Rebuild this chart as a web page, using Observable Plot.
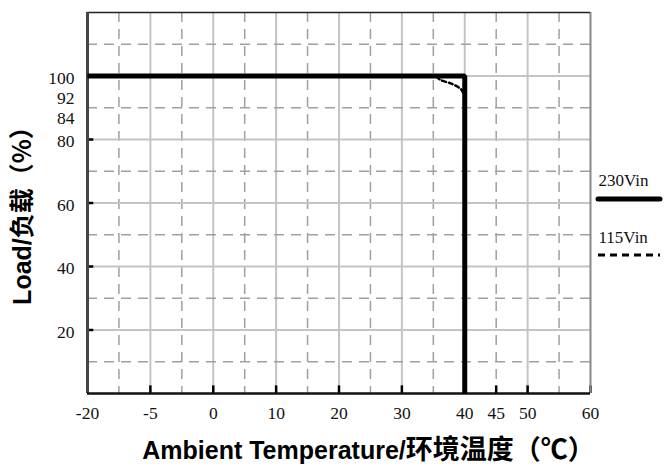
<!DOCTYPE html>
<html>
<head>
<meta charset="utf-8">
<script src="https://cdn.jsdelivr.net/npm/d3@7"></script>
<script src="https://cdn.jsdelivr.net/npm/@observablehq/plot@0.6"></script>
<style>
  html, body { margin: 0; padding: 0; background: #fff; }
  #chart svg { display: block; }
</style>
</head>
<body>
<div id="chart"></div>
<script>
// ---- data ----
const tempTicks = [-20, -5, 0, 10, 20, 30, 40, 45, 50, 60];
const tickSlots = [0, 2, 4, 6, 8, 10, 12, 13, 14, 16];
const loadTicks = [20, 40, 60, 80, 84, 92, 100];
const temp230 = [-20, 40, 40];
const load230 = [100, 100, 0];
const temp115 = [35.5, 36.2, 38, 39.5, 40];
const load115 = [99.8, 98.7, 97.5, 95.6, 93];
const seriesNames = ["230Vin", "115Vin"];
const xTitle = ["Ambient Temperature/", "环境温度（℃）"];
const yTitle = ["Load/", "负载（%）"];

const tempIdx = d3.scaleLinear().domain(tempTicks).range(tickSlots);
const pts230 = temp230.map((t, i) => ({x: tempIdx(t), y: load230[i]}));
const pts115 = temp115.map((t, i) => ({x: tempIdx(t), y: load115[i]}));

const serif = "'Liberation Serif', 'DejaVu Serif', serif";
const sans = "'Liberation Sans', Arial, sans-serif";
const cjk = "'Noto Sans CJK SC', sans-serif";

const yMain = loadTicks.filter(v => v % 20 === 0);
const ySmall = loadTicks.filter(v => v % 20 !== 0);

const plot = Plot.plot({
  width: 664,
  height: 470,
  marginLeft: 87,
  marginRight: 74,
  marginTop: 12,
  marginBottom: 77,
  x: {domain: [0, 16], axis: null},
  y: {domain: [0, 120], axis: null},
  marks: [
    // grid
    Plot.ruleX(d3.range(2, 16, 2), {stroke: "#c4c4c4", strokeWidth: 2}),
    Plot.ruleX(d3.range(1, 17, 2), {stroke: "#a0a0a0", strokeWidth: 1.5, strokeDasharray: "10,7"}),
    Plot.ruleY(d3.range(20, 120, 20), {stroke: "#c4c4c4", strokeWidth: 2}),
    Plot.ruleY(d3.range(10, 121, 20), {stroke: "#a0a0a0", strokeWidth: 1.5, strokeDasharray: "10,7"}),
    // tick marks
    Plot.ruleX(tickSlots, {y1: 0, y2: 2.4, stroke: "#000", strokeWidth: 2.5}),
    Plot.ruleY(yMain, {x1: 0, x2: 0.2, stroke: "#000", strokeWidth: 2.5}),
    // frame
    Plot.ruleX([16], {stroke: "#888", strokeWidth: 2}),
    Plot.ruleY([120], {stroke: "#222", strokeWidth: 1.5}),
    Plot.ruleX([0], {stroke: "#444", strokeWidth: 3}),
    Plot.ruleY([0], {stroke: "#111", strokeWidth: 2.5}),
    // tick labels
    Plot.text(tickSlots, {x: d => d, y: 0, text: (d, i) => String(tempTicks[i]), dy: 20, fontFamily: serif, fontSize: 17.5, fill: "#111"}),
    Plot.text(yMain, {x: 0, y: d => d, text: d => String(d), dx: -13, dy: 2, textAnchor: "end", fontFamily: serif, fontSize: 17.5, fill: "#111"}),
    Plot.text(ySmall.filter(v => v === 92), {x: 0, y: d => d, text: d => String(d), dx: -13, dy: -3, textAnchor: "end", fontFamily: serif, fontSize: 17.5, fill: "#111"}),
    Plot.text(ySmall.filter(v => v === 84), {x: 0, y: d => d, text: d => String(d), dx: -13, dy: -8, textAnchor: "end", fontFamily: serif, fontSize: 17.5, fill: "#111"}),
    // series
    Plot.line(pts115, {x: "x", y: "y", stroke: "#000", strokeWidth: 2.5, strokeDasharray: "4,3", curve: "catmull-rom"}),
    Plot.line(pts230, {x: "x", y: "y", stroke: "#000", strokeWidth: 5, strokeLinejoin: "miter", strokeLinecap: "butt"}),
    // legend
    Plot.text([seriesNames[0]], {frameAnchor: "right", dx: 8, dy: -22, textAnchor: "start", fontFamily: serif, fontSize: 17, fill: "#111"}),
    Plot.text([seriesNames[1]], {frameAnchor: "right", dx: 8, dy: 35, textAnchor: "start", fontFamily: serif, fontSize: 17, fill: "#111"})
  ]
});

const svg = d3.select(plot);
const right = 664 - 74;
const xs = plot.scale("x"), ys = plot.scale("y");
const cx = (xs.apply(0) + xs.apply(16)) / 2;
const cy = (ys.apply(0) + ys.apply(120)) / 2;

// axis titles with mixed Latin / CJK fonts
const xt = svg.append("text")
  .attr("x", cx + 30).attr("y", 459)
  .attr("text-anchor", "middle").attr("font-weight", "bold").attr("fill", "#000");
xt.append("tspan").attr("font-family", sans).attr("font-size", 25).text(xTitle[0]);
xt.append("tspan").attr("font-family", cjk).attr("font-size", 27).text(xTitle[1]);

const yt = svg.append("text")
  .attr("transform", `translate(31,${cy + 7}) rotate(-90)`)
  .attr("text-anchor", "middle").attr("font-weight", "bold").attr("fill", "#000");
yt.append("tspan").attr("font-family", sans).attr("font-size", 25).text(yTitle[0]);
yt.append("tspan").attr("font-family", cjk).attr("font-size", 25).text(yTitle[1]);

// legend swatches
svg.append("line").attr("x1", right + 8).attr("x2", right + 70)
  .attr("y1", 199).attr("y2", 199)
  .attr("stroke", "#000").attr("stroke-width", 5).attr("stroke-linecap", "round");
svg.append("line").attr("x1", right + 8).attr("x2", right + 70)
  .attr("y1", 255).attr("y2", 255)
  .attr("stroke", "#000").attr("stroke-width", 3).attr("stroke-dasharray", "7,5");

document.getElementById("chart").appendChild(plot);
</script>
</body>
</html>
